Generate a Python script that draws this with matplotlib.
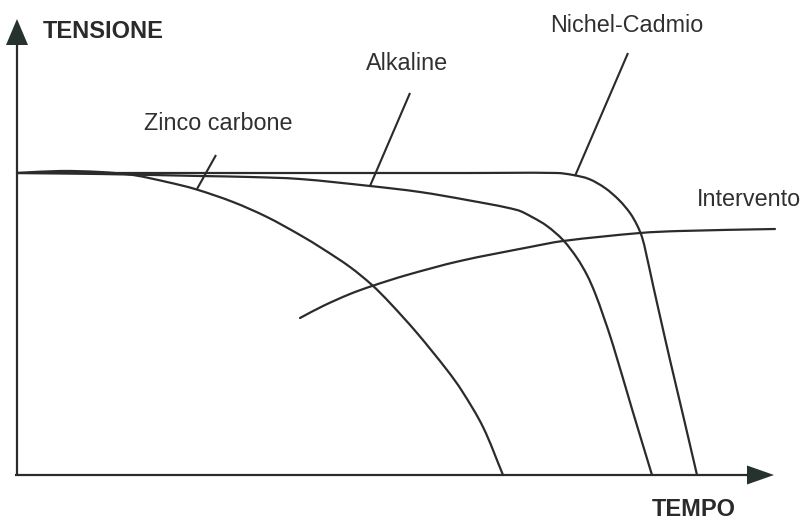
import matplotlib
matplotlib.use("Agg")
import matplotlib.pyplot as plt
import numpy as np
from matplotlib.patches import Polygon, PathPatch
from matplotlib.path import Path

# ---- data (arbitrary units: tempo, tensione) ----
zinco_t = [0, 43, 83, 116, 150, 178, 216, 250, 283, 306, 333, 355, 373, 400, 430, 445, 466, 486]
zinco_v = [302, 304, 303, 300, 293, 286, 273, 258, 240, 226, 208, 190, 172, 142, 105, 84, 48, 0]

alk_t = [0, 83, 183, 233, 283, 353, 403, 450, 500, 515, 530, 546, 560, 570, 578, 586, 596, 615, 635]
alk_v = [302, 301, 299, 298, 296, 289, 283, 275, 265, 258, 249, 235, 217, 200, 182, 160, 130, 66, 0]

nicd_t = [0, 150, 300, 450, 540, 556, 572, 588, 602, 613, 620, 625, 629, 636, 645, 653, 666, 680]
nicd_v = [302, 302, 302, 302, 302, 300, 296, 287, 275, 262, 250, 238, 222, 190, 150, 115, 60, 0]

interv_t = [283, 306, 333, 355, 390, 443, 513, 546, 623, 663, 758]
interv_v = [157, 169, 181, 189, 200, 214, 228, 234, 242, 244, 246]

labels = ["Zinco carbone", "Alkaline", "Nichel-Cadmio", "Intervento"]
y_label = "TENSIONE"
x_label = "TEMPO"

# leader lines (start on curve, end near label)
leaders = {
    "Zinco carbone": ((180, 286), (199, 320)),
    "Alkaline": ((353, 289), (393, 382)),
    "Nichel-Cadmio": ((558, 299), (611, 422)),
}

LINE = "#2b2b2b"
HEAD = "#25322e"
TXT = "#303030"
plt.rcParams['font.family'] = ['Liberation Sans', 'DejaVu Sans']


def smooth_path(t, v):
    """Cubic Bezier path through the read points; tangent handles scaled to segment length."""
    p = np.column_stack([t, v]).astype(float)
    n = len(p)
    tang = []
    for i in range(n):
        a = p[max(i - 1, 0)]
        b = p[min(i + 1, n - 1)]
        d = b - a
        tang.append(d / np.hypot(*d))
    verts = [p[0]]
    codes = [Path.MOVETO]
    for i in range(n - 1):
        L = np.hypot(*(p[i + 1] - p[i])) / 3.0
        verts += [p[i] + tang[i] * L, p[i + 1] - tang[i + 1] * L, p[i + 1]]
        codes += [Path.CURVE4] * 3
    return Path(verts, codes)


fig = plt.figure(figsize=(8.04, 5.20), dpi=100)
fig.patch.set_facecolor("white")
ax = fig.add_axes([0, 0, 1, 1])
ax.set_xlim(-17, 787)
ax.set_ylim(-45, 475)
ax.axis("off")

lw = 1.6
# axes lines
ax.plot([0, 0], [0, 432], color=LINE, lw=lw, solid_capstyle="butt")
ax.plot([-2, 732], [0, 0], color=LINE, lw=lw, solid_capstyle="butt")
ax.add_patch(Polygon([[0, 456], [-11, 430], [11, 430]], closed=True, color=HEAD, lw=0))
ax.add_patch(Polygon([[757, 0], [730, 9.5], [730, -9.5]], closed=True, color=HEAD, lw=0))

# curves
for t, v in [(zinco_t, zinco_v), (alk_t, alk_v), (nicd_t, nicd_v), (interv_t, interv_v)]:
    ax.add_patch(PathPatch(smooth_path(t, v), facecolor="none", edgecolor=LINE,
                           lw=lw, capstyle="round", joinstyle="round"))

for name, (p0, p1) in leaders.items():
    ax.plot([p0[0], p1[0]], [p0[1], p1[1]], color=LINE, lw=lw * 0.95, solid_capstyle="butt")

fs = 16.8
ax.text(201, 351, labels[0], fontsize=fs, color=TXT, ha="center", va="center")
ax.text(390, 412, labels[1], fontsize=fs, color=TXT, ha="center", va="center")
ax.text(610, 450, labels[2], fontsize=fs, color=TXT, ha="center", va="center")
ax.text(680, 275, labels[3], fontsize=fs, color=TXT, ha="left", va="center")

ax.text(26, 443, y_label, fontsize=17, fontweight="bold", color="#2a2a2a", ha="left", va="center")
ax.text(677, -34, x_label, fontsize=17, fontweight="bold", color="#2a2a2a", ha="center", va="center")

fig.savefig("out.png", dpi=100, facecolor="white")
